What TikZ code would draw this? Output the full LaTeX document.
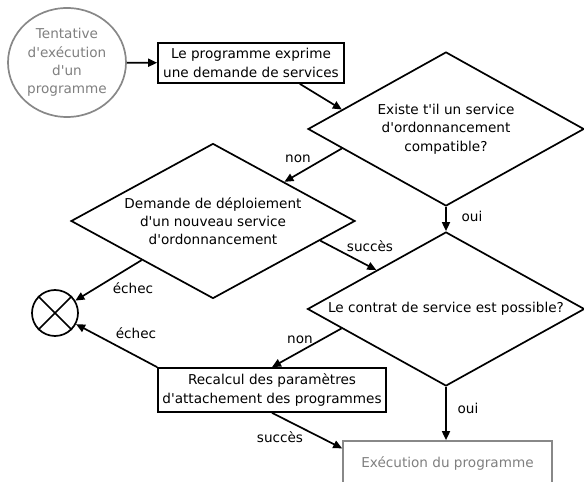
\documentclass[tikz,border=0pt]{standalone}
\usepackage{fontspec}
\newfontfamily\flowfont{DejaVu Sans}
\usepackage{xcolor}
\usepackage{tikz}
\usetikzlibrary{arrows.meta, positioning, calc, shapes.geometric}
\definecolor{EdgeGray}{HTML}{888888}
\definecolor{TextGray}{HTML}{7F7F7F}

\begin{document}
\begin{tikzpicture}[x=1pt, y=1pt, line width=1.7pt,
  every node/.style={font=\flowfont\fontsize{13.6}{18.3}\selectfont, align=center},
  terminal/.style={draw=EdgeGray, text=TextGray},
  stepbox/.style={draw, rectangle, inner sep=4pt},
  test/.style={draw, diamond, aspect=1.8, inner sep=0pt},
  flow/.style={-{Triangle[length=9pt,width=8pt]}}]
  \clip (0,0) rectangle (584,482);
  % terminaux
  \node[terminal, ellipse, minimum width=118, minimum height=109, inner sep=0pt] (start) at (67,419.5) {Tentative\\d'exécution\\d'un\\programme};
  \node[terminal, rectangle, minimum width=209, minimum height=44] (exec) at (447.5,19) {Exécution du programme};
  \node[draw, circle, minimum size=46, inner sep=0pt] (fail) at (55,169) {};
  \draw (fail.north west) -- (fail.south east) (fail.north east) -- (fail.south west);
  % etapes et tests
  \node[stepbox, minimum width=186, minimum height=40] (prog) at (251,419) {Le programme exprime\\une demande de services};
  \node[test, minimum width=276, minimum height=154] (exist) at (446,353) {Existe t'il un service\\d'ordonnancement\\compatible?};
  \node[test, minimum width=284, minimum height=155] (deploy) at (213,261) {Demande de déploiement\\d'un nouveau service\\d'ordonnancement};
  \node[test, minimum width=277, minimum height=154] (contrat) at (446,173) {Le contrat de service est possible?};
  \node[stepbox, minimum width=228, minimum height=44] (recalc) at (272,92) {Recalcul des paramètres\\d'attachement des programmes};
  % connecteurs
  \draw[flow] (start) -- (prog);
  \draw[flow] ($(prog.south west)!0.76!(prog.south east)$) -- ($(exist.west)!0.25!(exist.north)$);
  \draw[flow] ($(exist.west)!0.25!(exist.south)$) -- ($(deploy.north)!0.5!(deploy.east)$);
  \draw[flow] (exist.south) -- (contrat.north);
  \draw[flow] ($(deploy.east)!0.25!(deploy.south)$) -- ($(contrat.west)!0.5!(contrat.north)$);
  \draw[flow] ($(deploy.west)!0.5!(deploy.south)$) -- (fail);
  \draw[flow] (recalc.north west) -- (fail);
  \draw[flow] ($(contrat.west)!0.25!(contrat.south)$) -- (recalc.north);
  \draw[flow] (recalc.south) -- ($(exec.north west)!0.18!(exec.south west)$);
  \draw[flow] (contrat.south) -- (contrat.south |- exec.north);
  % etiquettes
  \node (nonA) at (298,323) {non};
  \node (ouiA) at (472,266) {oui};
  \node (succesA) at (370,236) {succès};
  \node (echecA) at (133,194) {échec};
  \node (echecB) at (136,149) {échec};
  \node (nonB) at (300,142) {non};
  \node (ouiB) at (468,74) {oui};
  \node (succesB) at (280,45) {succès};
\end{tikzpicture}
\end{document}
